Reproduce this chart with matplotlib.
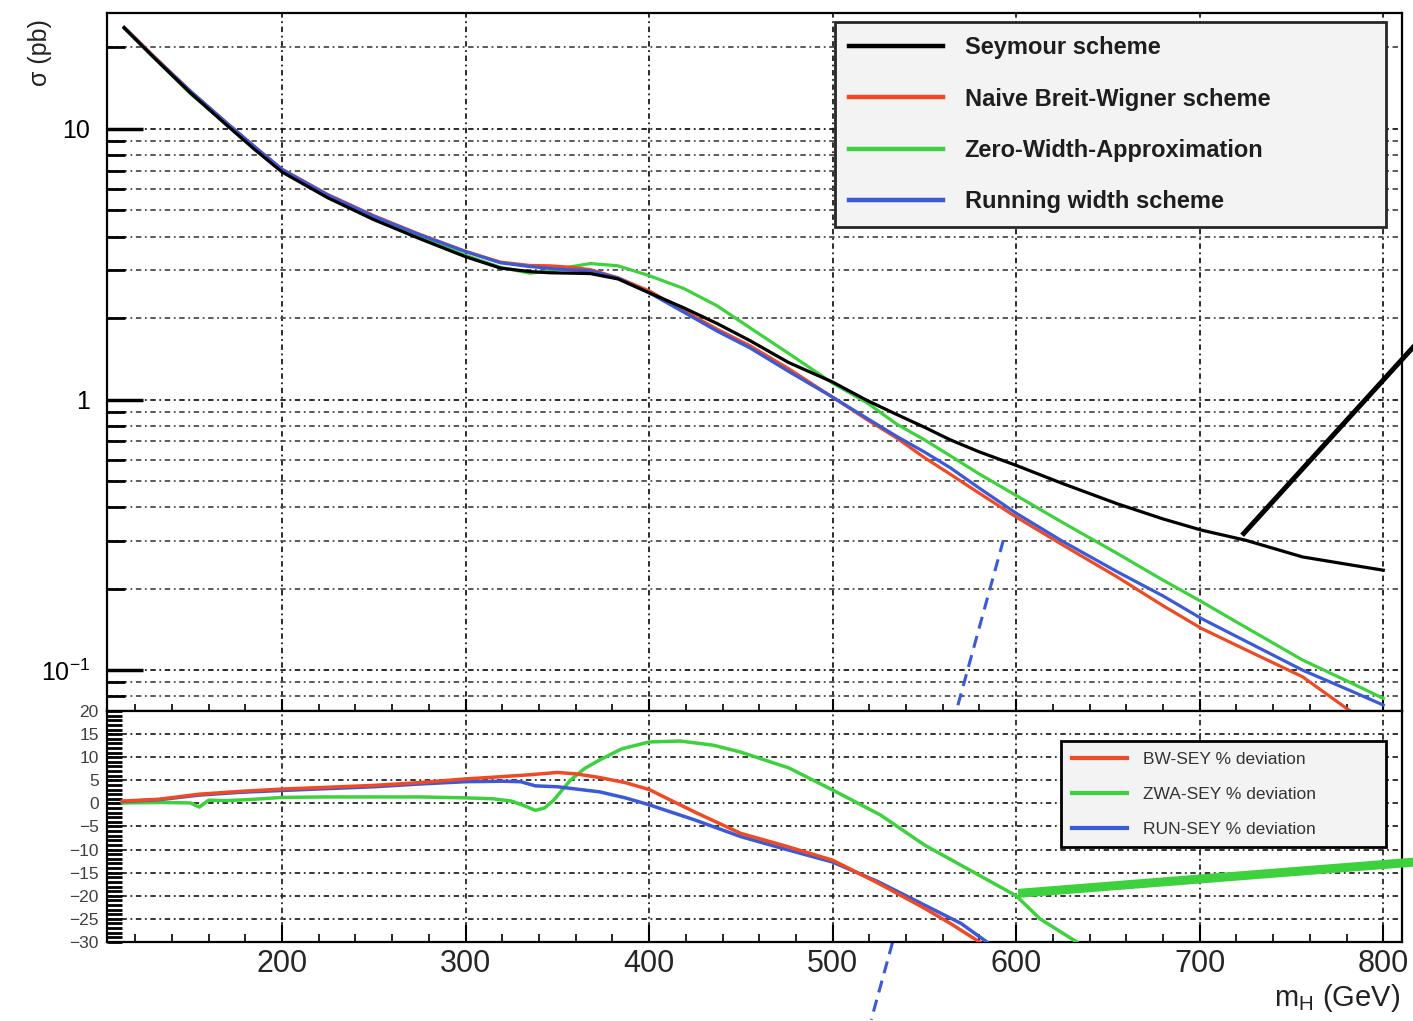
import numpy as np
import matplotlib
matplotlib.use("Agg")
import matplotlib.pyplot as plt
from matplotlib.ticker import FixedLocator, MultipleLocator, NullFormatter, FixedFormatter

plt.rcParams['font.family'] = ['Liberation Sans', 'DejaVu Sans']
plt.rcParams['mathtext.fontset'] = 'custom'
plt.rcParams['mathtext.rm'] = 'Liberation Sans'
plt.rcParams['mathtext.it'] = 'Liberation Sans:italic'

# upper panel: cross sections (pb) vs m_H (GeV)
mh_top = [114, 130, 150, 170, 185, 200, 225, 250, 275, 300, 319, 335, 346, 358, 368, 383,
          400, 419, 437, 455, 476, 500, 519, 535, 550, 564, 580, 600, 625, 655, 680, 701,
          725, 756, 782, 800]
sig_sey = [23.6, 18.4, 13.6, 10.3, 8.4, 6.93, 5.56, 4.62, 3.93, 3.37, 3.06, 2.97, 2.94, 2.93,
           2.92, 2.79, 2.48, 2.18, 1.91, 1.65, 1.37, 1.16, 0.99, 0.88, 0.79, 0.71, 0.64,
           0.571, 0.49, 0.412, 0.362, 0.329, 0.302, 0.262, 0.245, 0.234]
sig_bw = [23.8, 18.6, 13.8, 10.5, 8.6, 7.10, 5.72, 4.78, 4.08, 3.53, 3.22, 3.13, 3.12, 3.08,
          3.02, 2.82, 2.52, 2.13, 1.82, 1.58, 1.30, 1.02, 0.84, 0.72, 0.61, 0.53, 0.45,
          0.368, 0.291, 0.221, 0.173, 0.1425, 0.119, 0.0945, 0.0706, 0.0706]
sig_zwa = [23.6, 18.4, 13.5, 10.4, 8.5, 7.00, 5.62, 4.68, 3.98, 3.41, 3.08, 2.93, 2.98, 3.10,
           3.18, 3.12, 2.87, 2.57, 2.22, 1.84, 1.48, 1.15, 0.97, 0.81, 0.71, 0.62, 0.53,
           0.442, 0.352, 0.27, 0.215, 0.179, 0.144, 0.109, 0.09, 0.0786]
sig_run = [23.7, 18.5, 13.8, 10.5, 8.6, 7.08, 5.69, 4.75, 4.06, 3.52, 3.20, 3.10, 3.05, 3.01,
           2.99, 2.81, 2.48, 2.10, 1.79, 1.55, 1.27, 1.02, 0.85, 0.73, 0.64, 0.56, 0.47,
           0.38, 0.30, 0.231, 0.188, 0.155, 0.128, 0.10, 0.084, 0.0743]
n_bw = 35  # BW curve leaves the frame at ~782 GeV

# lower panel: % deviation from the Seymour scheme
mh_dev_bw = [113, 133, 155, 177, 200, 225, 250, 275, 300, 320, 335, 350, 360, 373, 387, 400,
             425, 450, 475, 500, 525, 550, 565, 580]
dev_bw = [0.5, 0.9, 2.0, 2.6, 3.1, 3.5, 3.9, 4.5, 5.3, 5.8, 6.2, 6.7, 6.4, 5.6, 4.5, 3.0,
          -1.9, -6.5, -9.3, -12.3, -17.3, -22.7, -26.2, -30.0]
mh_dev_run = [113, 133, 155, 177, 200, 225, 250, 275, 300, 320, 330, 338, 350, 373, 387, 400,
              425, 450, 475, 500, 525, 550, 570, 584]
dev_run = [0.4, 0.8, 1.8, 2.4, 2.8, 3.2, 3.6, 4.2, 4.7, 4.8, 4.7, 3.8, 3.6, 2.5, 1.2, -0.3,
           -3.6, -7.2, -10.0, -12.7, -17.0, -22.0, -26.0, -30.0]
mh_dev_zwa = [113, 135, 150, 155, 160, 170, 185, 200, 225, 250, 275, 300, 315, 325, 332, 338,
              343, 348, 357, 365, 373, 385, 400, 417, 435, 450, 476, 500, 526, 550, 575, 600,
              613, 633]
dev_zwa = [0.1, 0.2, 0.1, -0.8, 0.7, 0.6, 0.9, 1.3, 1.4, 1.4, 1.4, 1.2, 1.0, 0.5, -0.5, -1.5,
           -1.0, 0.7, 5.0, 7.6, 9.4, 11.8, 13.3, 13.5, 12.6, 11.1, 7.7, 2.9, -2.5, -9.0, -14.5,
           -20.0, -25.0, -30.0]

# hand-drawn marks laid over the plot
mark_black_mh = [724, 817]
mark_black_sig = [0.32, 1.58]
mark_blue_mh = [593, 521]
mark_blue_sig = [0.302, 0.0051]
mark_green_mh = [603.5, 817]
mark_green_dev = [-19.4, -12.7]

c_red = '#ef4a24'
c_green = '#3dd23d'
c_blue = '#3a5ad8'
grid_kw = dict(linestyle=(0, (3, 2, 1, 2)), linewidth=1.3)

fig = plt.figure(figsize=(14.13, 10.21), dpi=100)
ax = fig.add_axes([0.0757, 0.3036, 0.9165, 0.6836])
ax2 = fig.add_axes([0.0757, 0.0774, 0.9165, 0.2262])

# ---- upper panel
ax.plot(mh_top, sig_sey, color='black', lw=2.3, label='Seymour scheme', zorder=5)
ax.plot(mh_top[:n_bw], sig_bw[:n_bw], color=c_red, lw=2.3, label='Naive Breit-Wigner scheme', zorder=3)
ax.plot(mh_top, sig_zwa, color=c_green, lw=2.3, label='Zero-Width-Approximation', zorder=2)
ax.plot(mh_top, sig_run, color=c_blue, lw=2.3, label='Running width scheme', zorder=4)

ax.set_yscale('log')
ax.set_xlim(104.6, 810.2)
ax.set_ylim(0.0706, 26.8)
ax.yaxis.set_major_locator(FixedLocator([0.1, 1, 10]))
ax.yaxis.set_major_formatter(FixedFormatter([r'$10^{-1}$', '1', '10']))
minors = [m * d for d in (0.01, 0.1, 1, 10) for m in range(2, 10)]
ax.yaxis.set_minor_locator(FixedLocator(minors))
ax.yaxis.set_minor_formatter(NullFormatter())
ax.xaxis.set_major_locator(MultipleLocator(100))
ax.xaxis.set_minor_locator(MultipleLocator(20))
ax.xaxis.set_major_formatter(NullFormatter())
ax.tick_params(axis='y', which='major', direction='in', length=26, width=2.5, labelsize=18, pad=12)
ax.tick_params(axis='y', which='minor', direction='in', length=13, width=2)
ax.tick_params(axis='x', which='major', direction='in', length=9, width=1.5)
ax.tick_params(axis='x', which='minor', direction='in', length=5, width=1.2)
ax.grid(True, which='major', axis='both', color='0.1', **grid_kw)
ax.grid(True, which='minor', axis='y', color='0.3', **grid_kw)
for s in ax.spines.values():
    s.set_linewidth(1.6)

leg = ax.legend(loc='upper left', bbox_to_anchor=(0.562, 0.689, 0.426, 0.298), mode='expand',
                borderaxespad=0, prop=dict(size=17, weight='bold'), labelspacing=1.2,
                handlelength=4.0, handletextpad=0.9, borderpad=0.6, fancybox=False, framealpha=1)
leg.get_frame().set_facecolor('#f3f3f3')
leg.get_frame().set_edgecolor('0.15')
leg.get_frame().set_linewidth(2)
leg.set_zorder(10)
for h in leg.get_lines():
    h.set_linewidth(3.2)
for t in leg.get_texts():
    t.set_color('#1e1e1e')

ax.plot(mark_black_mh, mark_black_sig, color='black', lw=3.6, clip_on=False, zorder=12)
ax.plot(mark_blue_mh, mark_blue_sig, color=c_blue, lw=2.2, linestyle=(0, (4, 2.5)),
        clip_on=False, zorder=12)

# ---- lower panel
ax2.plot(mh_dev_bw, dev_bw, color=c_red, lw=2.5, label='BW-SEY % deviation', zorder=4)
ax2.plot(mh_dev_zwa, dev_zwa, color=c_green, lw=2.5, label='ZWA-SEY % deviation', zorder=3)
ax2.plot(mh_dev_run, dev_run, color=c_blue, lw=2.5, label='RUN-SEY % deviation', zorder=3)
ax2.set_xlim(104.6, 810.2)
ax2.set_ylim(-30, 20)
ax2.yaxis.set_major_locator(MultipleLocator(5))
ax2.yaxis.set_minor_locator(MultipleLocator(1))
ax2.xaxis.set_major_locator(MultipleLocator(100))
ax2.xaxis.set_minor_locator(MultipleLocator(20))
ax2.tick_params(axis='y', which='both', direction='in', length=11, width=2, labelsize=12.5,
                labelcolor='0.25', pad=6)
ax2.tick_params(axis='x', which='major', direction='in', length=12, width=1.5, labelsize=22,
                labelcolor='0.15', pad=5)
ax2.tick_params(axis='x', which='minor', direction='in', length=6, width=1.2)
ax2.set_xticks([200, 300, 400, 500, 600, 700, 800])
ax2.grid(True, which='major', axis='both', color='0.15', **grid_kw)
for s in ax2.spines.values():
    s.set_linewidth(1.6)

leg2 = ax2.legend(loc='upper left', bbox_to_anchor=(0.737, 0.407, 0.251, 0.463), mode='expand',
                  borderaxespad=0, prop=dict(size=12.5), labelspacing=1.15, handlelength=3.2,
                  handletextpad=0.9, borderpad=0.6, fancybox=False, framealpha=1)
leg2.get_frame().set_facecolor('#f3f3f3')
leg2.get_frame().set_edgecolor('black')
leg2.get_frame().set_linewidth(2)
leg2.set_zorder(10)
for h in leg2.get_lines():
    h.set_linewidth(3)
for t in leg2.get_texts():
    t.set_color('#333333')

ax2.plot(mark_green_mh, mark_green_dev, color=c_green, lw=6.5, clip_on=False, zorder=12)

fig.text(0.028, 0.949, 'σ (pb)', rotation=90, ha='center', va='center', fontsize=18,
         color='#222222')
fig.text(0.991, 0.0225, r'm$_{\mathrm{H}}$ (GeV)', ha='right', va='center', fontsize=21,
         color='#222222')

fig.savefig('out.png', dpi=100)
